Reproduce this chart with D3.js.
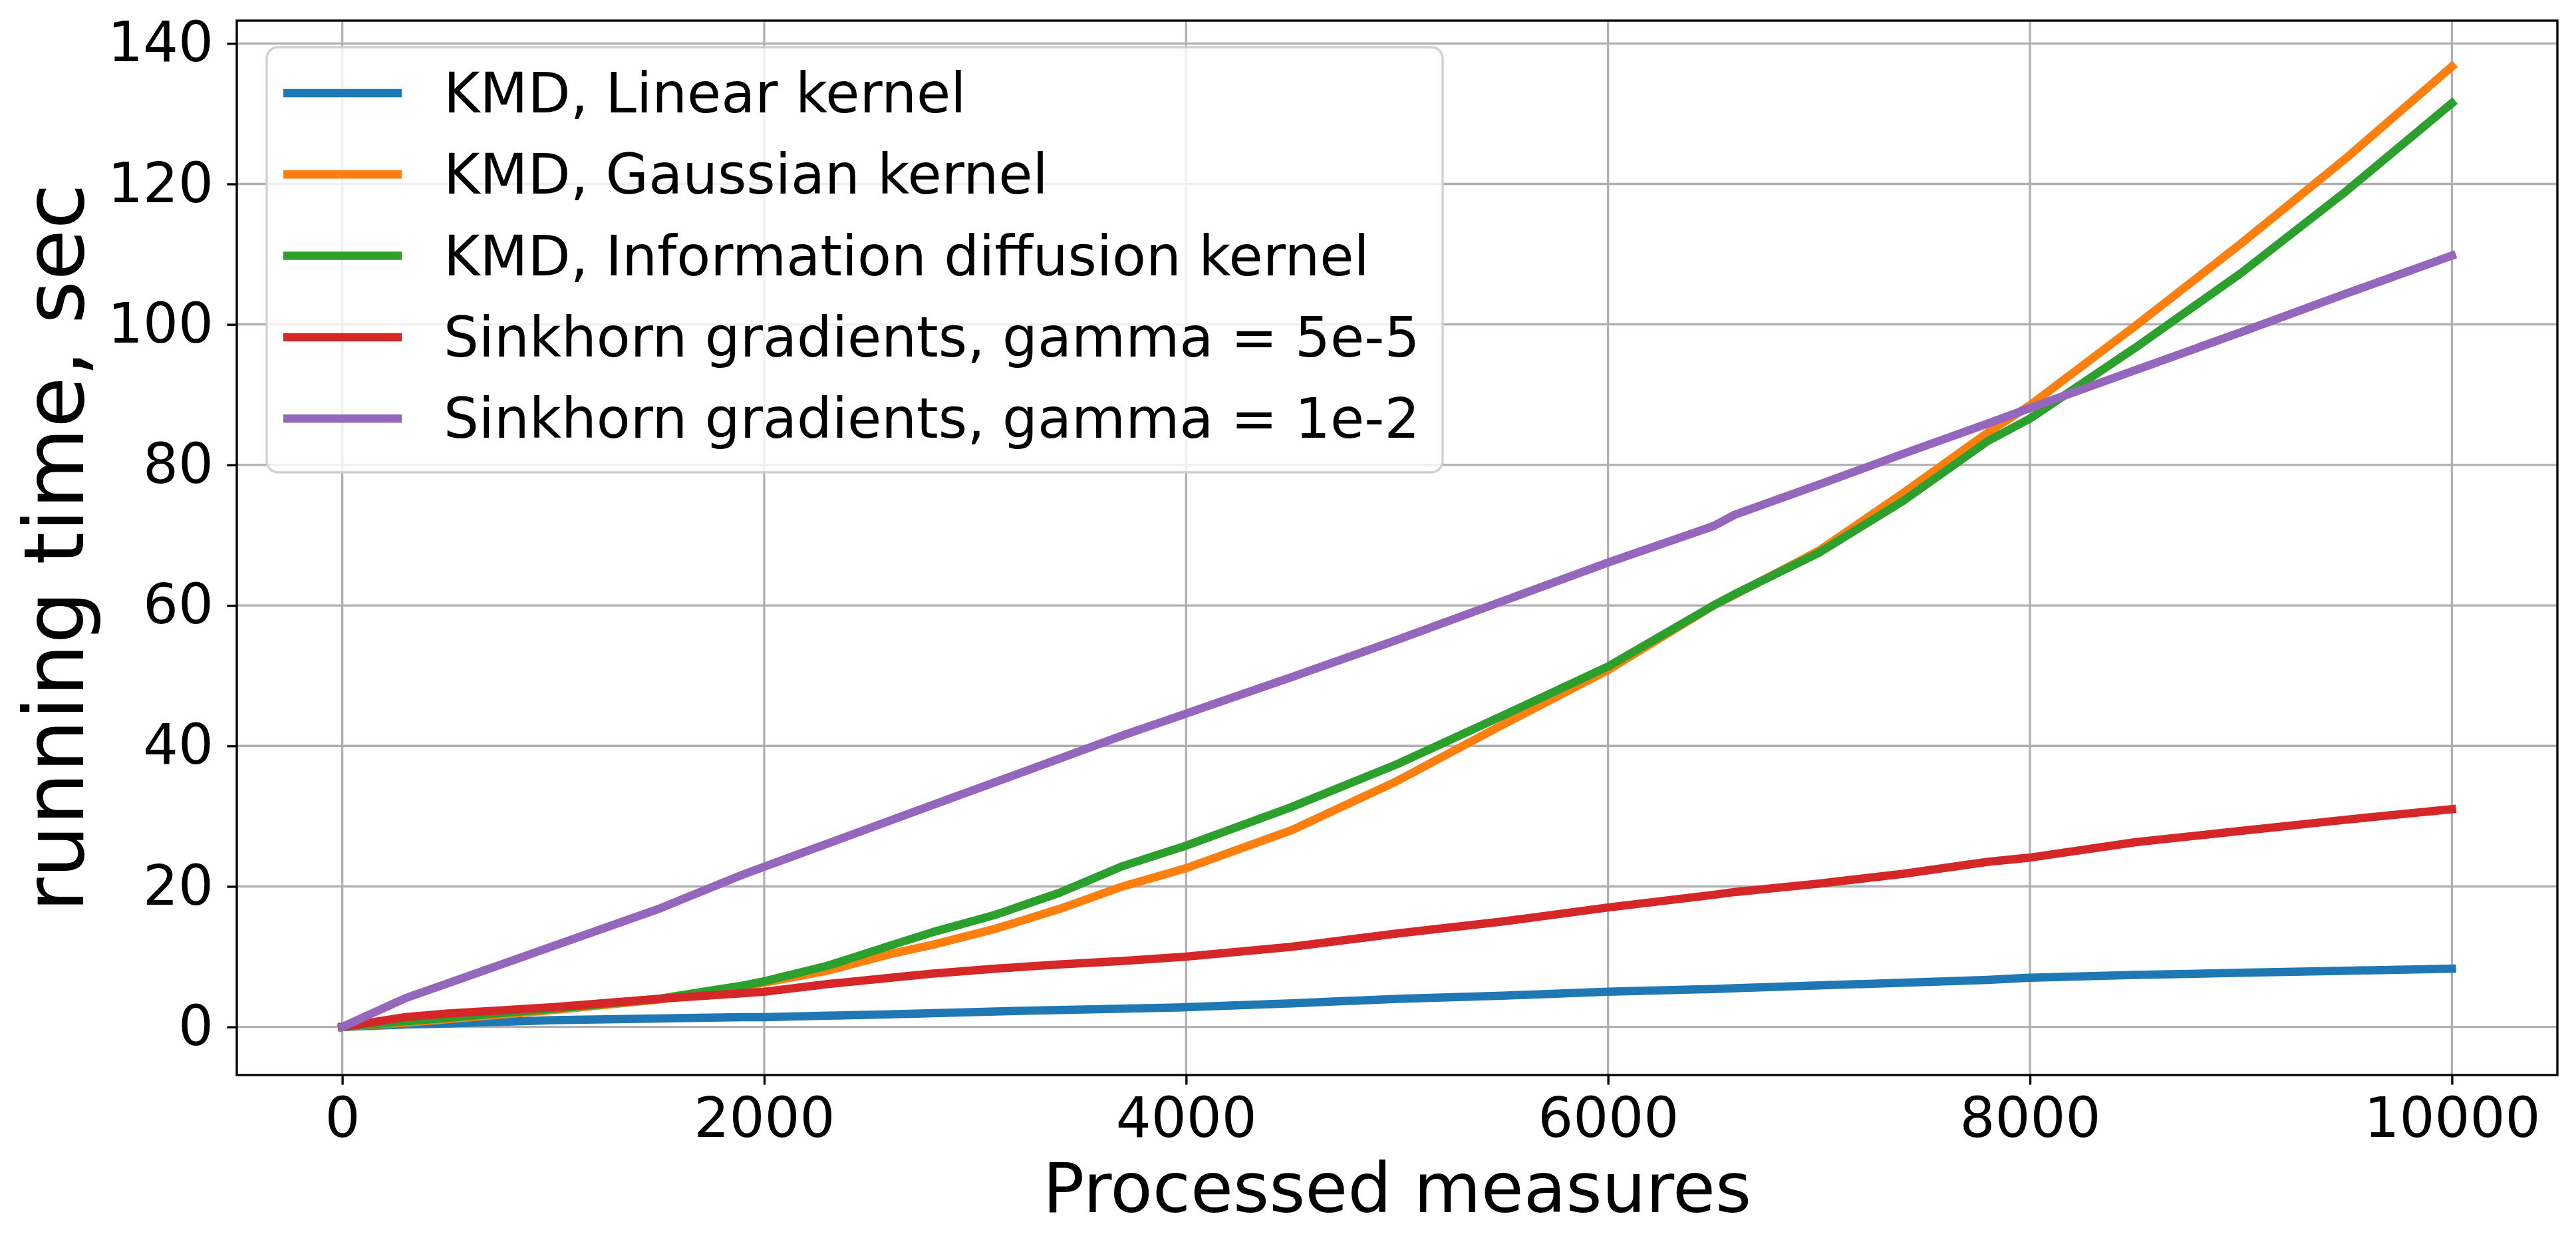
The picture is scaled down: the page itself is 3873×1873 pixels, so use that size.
<!DOCTYPE html>
<html>
<head>
<meta charset="utf-8">
<script src="https://cdn.jsdelivr.net/npm/d3@7"></script>
<style>
  body { margin: 0; background: #fff; }
  text { font-family: "DejaVu Sans", sans-serif; }
</style>
</head>
<body>
<script>
// x positions (processed measures) shared by all series
const measures = [0, 300, 500, 1000, 1500, 1900, 2000, 2300, 2600, 2800, 3100, 3400, 3700, 4000,
  4500, 5000, 5500, 6000, 6500, 6600, 7000, 7400, 7800, 8000, 8500, 9000, 9500, 10000]

// running times in seconds
const kmdLinear = [0, 0.35, 0.5, 0.96, 1.2, 1.4, 1.4, 1.6, 1.8, 1.95, 2.2, 2.4, 2.6, 2.8,
  3.35, 4.0, 4.45, 5.0, 5.4, 5.5, 5.9, 6.3, 6.7, 7.0, 7.4, 7.7, 8.0, 8.3]
const kmdGaussian = [0, 0.6, 1.1, 2.4, 3.9, 5.7, 6.3, 8.0, 10.4, 11.7, 14.0, 16.8, 20.0, 22.6,
  28.0, 35.0, 43.0, 50.8, 60.0, 61.5, 67.8, 76.0, 84.6, 88.5, 99.8, 111.5, 123.7, 136.7]
const kmdDiffusion = [0, 0.8, 1.3, 2.6, 4.0, 5.9, 6.5, 8.7, 11.6, 13.5, 16.0, 19.1, 22.9, 25.8,
  31.3, 37.4, 44.3, 51.3, 60.0, 61.6, 67.5, 74.9, 83.4, 86.6, 96.7, 107.3, 119.0, 131.5]
const sinkhornSmall = [0, 1.4, 1.9, 2.8, 4.0, 4.8, 5.0, 6.1, 7.0, 7.6, 8.3, 8.9, 9.4, 10.0,
  11.4, 13.3, 15.0, 17.0, 18.8, 19.2, 20.4, 21.8, 23.5, 24.1, 26.3, 27.9, 29.5, 31.0]
const sinkhornLarge = [0, 4.1, 6.2, 11.5, 16.8, 21.7, 22.8, 26.1, 29.4, 31.6, 34.9, 38.2, 41.5, 44.6,
  49.8, 55.1, 60.6, 66.1, 71.3, 72.9, 77.2, 81.6, 85.9, 88.1, 93.5, 98.9, 104.4, 109.8]

const seriesNames = ["KMD, Linear kernel", "KMD, Gaussian kernel", "KMD, Information diffusion kernel",
  "Sinkhorn gradients, gamma = 5e-5", "Sinkhorn gradients, gamma = 1e-2"]
const seriesValues = [kmdLinear, kmdGaussian, kmdDiffusion, sinkhornSmall, sinkhornLarge]
const colors = ["#1f77b4", "#ff7f0e", "#2ca02c", "#d62728", "#9467bd"]

const xTicks = [0, 2000, 4000, 6000, 8000, 10000]
const yTicks = [0, 20, 40, 60, 80, 100, 120, 140]

const width = 3873, height = 1873
const plotLeft = 356, plotRight = 3845, plotTop = 31, plotBottom = 1616
const lw = 3.33

let svg = d3.select("body").append("svg")
  .attr("width", width).attr("height", height)

let x = d3.scaleLinear().domain([-500, 10500]).range([plotLeft, plotRight])
let y = d3.scaleLinear().domain([-6.85, 143.25]).range([plotBottom, plotTop])

//grid lines
svg.append("g").selectAll("line").data(xTicks).enter().append("line")
  .attr("x1", d => x(d)).attr("x2", d => x(d))
  .attr("y1", plotTop).attr("y2", plotBottom)
  .attr("stroke", "#b0b0b0").attr("stroke-width", lw)
svg.append("g").selectAll("line").data(yTicks).enter().append("line")
  .attr("y1", d => y(d)).attr("y2", d => y(d))
  .attr("x1", plotLeft).attr("x2", plotRight)
  .attr("stroke", "#b0b0b0").attr("stroke-width", lw)

//axes
let xAxis = svg.append("g").attr("transform", `translate(0,${plotBottom})`)
  .call(d3.axisBottom(x).tickValues(xTicks).tickSize(14.6).tickPadding(18.8).tickFormat(d3.format("d")))
let yAxis = svg.append("g").attr("transform", `translate(${plotLeft},0)`)
  .call(d3.axisLeft(y).tickValues(yTicks).tickSize(14.6).tickPadding(20.4).tickFormat(d3.format("d")))
for (let ax of [xAxis, yAxis]) {
  ax.select(".domain").remove()
  ax.selectAll("line").attr("stroke", "#000").attr("stroke-width", lw)
  ax.selectAll("text").attr("font-size", 83.3).attr("fill", "#000")
    .attr("font-family", "DejaVu Sans")
}

//lines
let line = d3.line().x((d, i) => x(measures[i])).y(d => y(d))
svg.append("g").selectAll("path").data(seriesValues).enter().append("path")
  .attr("d", d => line(d))
  .attr("fill", "none")
  .attr("stroke", (d, i) => colors[i])
  .attr("stroke-width", 12.5)
  .attr("stroke-linejoin", "round")
  .attr("stroke-linecap", "square")

//spines
svg.append("rect")
  .attr("x", plotLeft).attr("y", plotTop)
  .attr("width", plotRight - plotLeft).attr("height", plotBottom - plotTop)
  .attr("fill", "none").attr("stroke", "#000").attr("stroke-width", lw)

//legend
let legend = svg.append("g")
legend.append("rect")
  .attr("x", 401).attr("y", 71).attr("width", 1768).attr("height", 639)
  .attr("rx", 17).attr("ry", 17)
  .attr("fill", "#fff").attr("fill-opacity", 0.8)
  .attr("stroke", "#d0d0d0").attr("stroke-width", 3.3)
let rows = legend.selectAll(".row").data(seriesNames).enter().append("g")
  .attr("class", "row")
  .attr("transform", (d, i) => `translate(0,${140 + i * 122.3})`)
rows.append("line")
  .attr("x1", 426).attr("x2", 604)
  .attr("stroke", (d, i) => colors[i]).attr("stroke-width", 12.5)
rows.append("text")
  .attr("x", 667).attr("y", 29)
  .attr("font-size", 83.3)
  .text(d => d)

//axis labels
svg.append("text")
  .attr("x", (plotLeft + plotRight) / 2).attr("y", 1822)
  .attr("text-anchor", "middle").attr("font-size", 104)
  .text("Processed measures")
svg.append("text")
  .attr("transform", `translate(125,${(plotTop + plotBottom) / 2}) rotate(-90)`)
  .attr("text-anchor", "middle").attr("font-size", 125)
  .text("running time, sec")
</script>
</body>
</html>
